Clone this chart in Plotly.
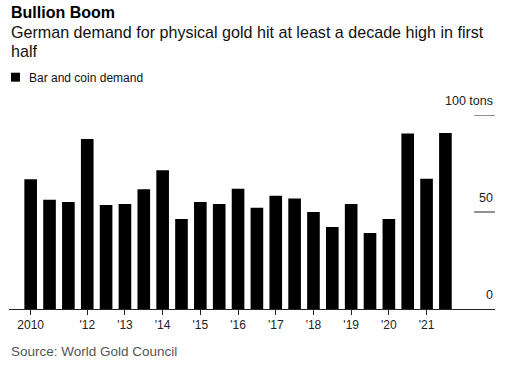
import plotly.graph_objects as go

periods = [f"{y} H{h}" for y in range(2010, 2022) for h in (1, 2)][:23]
demand = [66.9, 56.3, 55.2, 87.6, 53.6, 54.1, 61.7, 71.5, 46.4, 55.2, 54.1, 62.0,
          52.2, 58.4, 56.9, 50.0, 42.3, 54.1, 39.2, 46.4, 90.4, 67.2, 90.7]
tick_periods = ["2010 H1", "2011 H2", "2012 H2", "2013 H2", "2014 H2", "2015 H2",
                "2016 H2", "2017 H2", "2018 H2", "2019 H2", "2020 H2"]
tick_labels = ["2010", "'12", "'13", "'14", "'15", "'16", "'17", "'18", "'19", "'20", "'21"]
y_ticks = [0, 50, 100]
y_tick_labels = ["0", "50", "100 tons"]

FONT = "Liberation Sans, Arial, sans-serif"

fig = go.Figure(go.Bar(x=periods, y=demand, marker=dict(color="#000000", line=dict(width=0)),
                       width=0.67, name="Bar and coin demand", showlegend=False))

fig.update_layout(
    width=512, height=371,
    margin=dict(l=9, r=17, t=115, b=62),
    paper_bgcolor="white", plot_bgcolor="white",
    font=dict(family=FONT, color="#222222"),
    xaxis=dict(
        type="category", categoryorder="array", categoryarray=periods,
        range=[-1.15, 24.63],
        tickmode="array", tickvals=tick_periods, ticktext=tick_labels,
        ticks="outside", ticklen=5, tickwidth=1, tickcolor="#222222",
        showline=True, linecolor="#222222", linewidth=1,
        showgrid=False, tickfont=dict(size=12, color="#222222"),
    ),
    yaxis=dict(range=[0, 100], showgrid=False, showticklabels=False, zeroline=False,
               fixedrange=True),
    bargap=0.33,
)

shapes = []
for v in y_ticks[1:]:
    shapes.append(dict(type="line", xref="paper", yref="y", x0=0.957, x1=1, y0=v, y1=v,
                       line=dict(color="#222222", width=1)))
# legend swatch
shapes.append(dict(type="rect", xref="paper", yref="paper", x0=0.0041, x1=0.0226,
                   y0=1.172, y1=1.218, fillcolor="#000000", line=dict(width=0)))
fig.update_layout(shapes=shapes)

ann = []
for v, t in zip(y_ticks, y_tick_labels):
    ann.append(dict(x=1, xref="paper", y=v, yref="y", text=t, showarrow=False,
                    xanchor="right", yanchor="bottom", yshift=5,
                    font=dict(size=12.5, color="#222222")))
ann.append(dict(x=0, xref="paper", y=1.528, yref="paper", text="<b>Bullion Boom</b>",
                showarrow=False, xanchor="left", yanchor="middle",
                font=dict(size=16, color="#000000")))
ann.append(dict(x=0, xref="paper", y=1.428, yref="paper",
                text="German demand for physical gold hit at least a decade high in first",
                showarrow=False, xanchor="left", yanchor="middle",
                font=dict(size=16.1, color="#111111")))
ann.append(dict(x=0, xref="paper", y=1.329, yref="paper", text="half",
                showarrow=False, xanchor="left", yanchor="middle",
                font=dict(size=16.1, color="#111111")))
ann.append(dict(x=0.037, xref="paper", y=1.193, yref="paper", text="Bar and coin demand",
                showarrow=False, xanchor="left", yanchor="middle",
                font=dict(size=12, color="#111111")))
ann.append(dict(x=0, xref="paper", y=-0.218, yref="paper", text="Source: World Gold Council",
                showarrow=False, xanchor="left", yanchor="middle",
                font=dict(size=13.5, color="#555555")))
fig.update_layout(annotations=ann)

fig.write_html("out.html", config={"displayModeBar": False},
               post_script="document.body.style.margin='0';")
